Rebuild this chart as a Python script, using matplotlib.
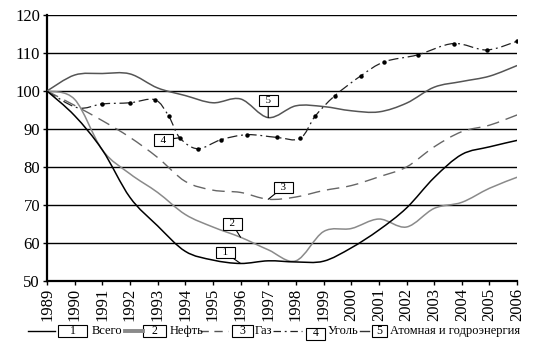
import numpy as np
import matplotlib
matplotlib.use('Agg')
import matplotlib.pyplot as plt
from matplotlib.path import Path
from matplotlib.patches import PathPatch, Rectangle
from matplotlib.lines import Line2D

plt.rcParams['font.family'] = 'Liberation Serif'

years = list(range(1989, 2007))
total = [100, 93.5, 84.5, 72.0, 64.5, 57.8, 55.5, 54.6, 55.3, 55.0,
         55.2, 58.7, 63.4, 69.2, 77.2, 83.3, 85.3, 87.0]
oil = [100, 97.8, 84.5, 78.2, 73.3, 67.5, 64.2, 61.5, 58.2, 55.3,
       63.0, 63.8, 66.3, 64.2, 69.1, 70.7, 74.4, 77.3]
gas = [100, 96.2, 92.2, 87.8, 82.5, 76.2, 73.9, 73.3, 71.5, 72.1,
       73.8, 75.1, 77.4, 80.0, 85.3, 89.3, 91.0, 93.7]
nuclear = [100, 104.2, 104.6, 104.5, 100.8, 98.8, 96.9, 97.9, 93.0, 96.1,
           95.9, 94.8, 94.5, 96.8, 101.0, 102.5, 103.9, 106.7]
coal_x = [1989, 1990.1, 1991.0, 1992.0, 1992.9, 1993.4, 1993.8, 1994.45, 1995.3, 1996.25,
          1997.3, 1998.15, 1998.7, 1999.4, 2000.35, 2001.2, 2002.4, 2003.7, 2004.9, 2006.0]
coal = [100, 95.6, 96.6, 96.9, 97.7, 93.4, 87.7, 84.8, 87.2, 88.5,
        87.8, 87.5, 93.4, 98.7, 104.0, 107.7, 109.5, 112.5, 110.8, 113.1]

names = ['Всего', 'Нефть', 'Газ', 'Уголь', 'Атомная и годроэнергия']


def smooth_path(x, y):
    # Catmull-Rom curve through the points, as cubic Bezier segments
    p = np.column_stack([x, y]).astype(float)
    ext = np.vstack([p[0], p, p[-1]])
    verts = [p[0]]
    codes = [Path.MOVETO]
    for i in range(1, len(ext) - 2):
        p0, p1, p2, p3 = ext[i - 1], ext[i], ext[i + 1], ext[i + 2]
        verts += [p1 + (p2 - p0) / 6, p2 - (p3 - p1) / 6, p2]
        codes += [Path.CURVE4] * 3
    return Path(verts, codes)


def draw(ax, x, y, **kw):
    ax.add_patch(PathPatch(smooth_path(x, y), fill=False, **kw))


fig = plt.figure(figsize=(5.37, 3.46), dpi=100)
ax = fig.add_axes([0.0875, 0.188, 0.8755, 0.7686])

for v in range(60, 121, 10):
    ax.axhline(v, color='black', lw=1.0, zorder=1)

draw(ax, years, nuclear, color='#555555', lw=1.1, zorder=3)
draw(ax, coal_x, coal, color='#222222', lw=0.9, linestyle=(0, (8, 3, 1.5, 3)), zorder=3)
ax.plot(coal_x[2:], coal[2:], ls='none', marker='o', ms=2.2, color='black', zorder=4)
draw(ax, years, gas, color='#666666', lw=1.0, linestyle=(0, (9, 5)), zorder=3)
draw(ax, years, oil, color='#8a8a8a', lw=1.1, zorder=3)
draw(ax, years, total, color='black', lw=1.1, zorder=3)

ax.set_xlim(1989, 2006)
ax.set_ylim(50, 120)
ax.set_xticks(years)
ax.set_xticklabels([str(y) for y in years], rotation=90)
ax.set_yticks(range(50, 121, 10))
ax.tick_params(labelsize=12, length=3, width=1, pad=2)
for s in ['top', 'right']:
    ax.spines[s].set_visible(False)
for s in ['left', 'bottom']:
    ax.spines[s].set_linewidth(1.6)

box = dict(boxstyle='square,pad=0.1', fc='white', ec='black', lw=0.8)
lead = dict(arrowstyle='-', color='black', lw=0.8, shrinkA=0, shrinkB=0)
labels = [
    ('  1  ', (1995.45, 57.4), (years[7], total[7])),
    ('  2  ', (1995.7, 65.0), (years[7], oil[7])),
    ('  3  ', (1997.55, 74.7), (years[8], gas[8])),
    ('  4  ', (1993.2, 87.1), (coal_x[6], coal[6])),
    ('  5  ', (1997.0, 97.4), (years[8], nuclear[8])),
]
for txt, pos, pt in labels:
    ax.annotate(txt, xy=pt, xytext=pos, ha='center', va='center', fontsize=8,
                bbox=box, arrowprops=lead, zorder=6)

# legend row under the axis, laid out in pixels
W, H = 537.0, 346.0


def fx(p):
    return p / W


def fy(p):
    return 1 - p / H


items = [
    (28, 55, dict(color='black', lw=1.0), 58, 29, 331, 92),
    (125, 143, dict(color='#8a8a8a', lw=2.8), 143, 23, 331, 170),
    (200, 228, dict(color='#555555', lw=1.0, linestyle=(0, (6, 4))), 232, 21, 331, 255),
    (273, 302, dict(color='#222222', lw=0.9, linestyle=(0, (6, 3, 1.5, 3))), 306, 19, 333.5, 328),
    (360, 369, dict(color='#333333', lw=1.0), 372, 15, 331, 390),
]
for i, ((x0, x1, style, bx, bw, by, tx), name) in enumerate(zip(items, names)):
    ly = fy(331)
    fig.add_artist(Line2D([fx(x0), fx(x1)], [ly, ly], transform=fig.transFigure, **style))
    fig.add_artist(Rectangle((fx(bx), fy(by + 6)), bw / W, 12 / H, transform=fig.transFigure,
                             fc='white', ec='black', lw=0.8))
    fig.text(fx(bx + bw / 2), fy(by), str(i + 1), ha='center', va='center', fontsize=8.5)
    fig.text(fx(tx), ly, name, ha='left', va='center', fontsize=9)

fig.savefig('out.png', dpi=100)
